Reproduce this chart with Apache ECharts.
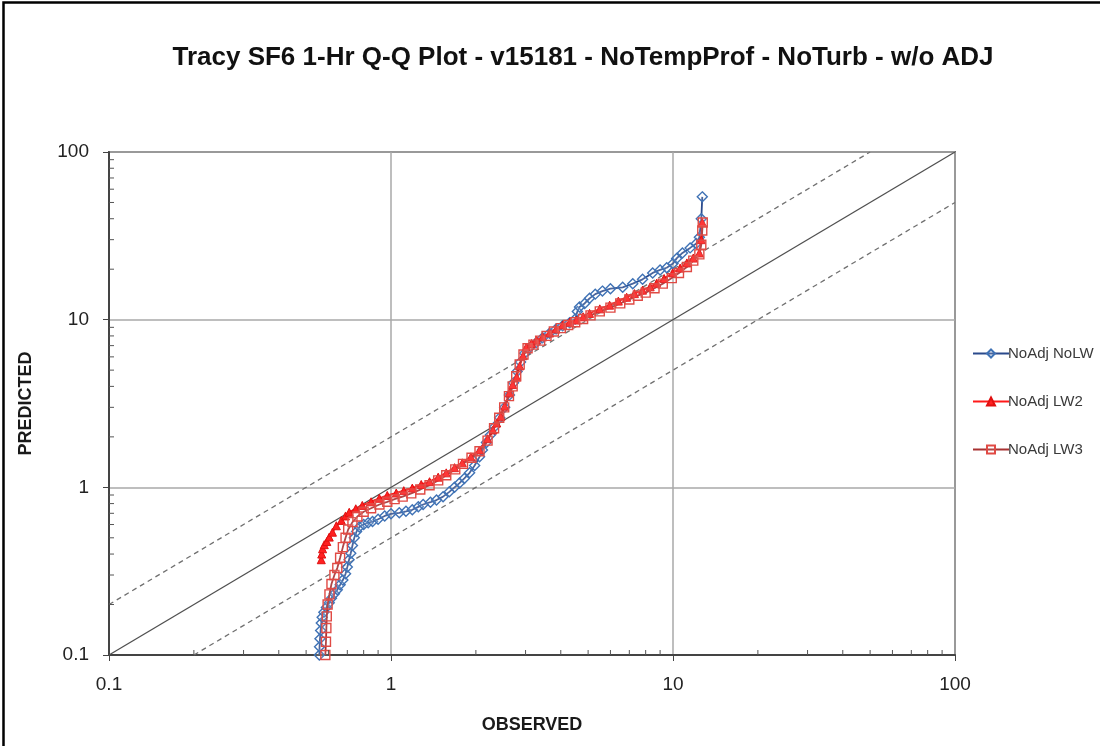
<!DOCTYPE html>
<html>
<head>
<meta charset="utf-8">
<script src="https://cdn.jsdelivr.net/npm/echarts@6/dist/echarts.min.js"></script>
<style>
  html, body { margin: 0; padding: 0; background: #fff; }
  #chart { width: 1100px; height: 746px; }
</style>
</head>
<body>
<div id="chart"></div>
<script>
// Q-Q pairs [observed, predicted] (ppt), sorted quantiles for each run
const noAdjNoLW = [
  [0.557,0.100],[0.558,0.112],[0.560,0.125],[0.563,0.140],[0.566,0.155],[0.570,0.168],
  [0.578,0.180],[0.590,0.192],[0.604,0.205],[0.615,0.218],[0.630,0.232],[0.645,0.245],
  [0.660,0.262],[0.675,0.280],[0.690,0.305],[0.700,0.335],[0.710,0.370],[0.720,0.405],
  [0.730,0.450],[0.741,0.500],[0.755,0.545],[0.772,0.580],[0.800,0.600],[0.830,0.615],
  [0.860,0.625],[0.900,0.645],[0.950,0.675],[1.000,0.695],[1.070,0.705],[1.130,0.720],
  [1.190,0.735],[1.250,0.765],[1.300,0.790],[1.380,0.815],[1.450,0.840],[1.530,0.880],
  [1.610,0.940],[1.680,1.000],[1.750,1.060],[1.820,1.130],[1.900,1.220],[1.980,1.350],
  [2.060,1.520],[2.110,1.670],[2.180,1.850],[2.250,2.050],[2.330,2.300],[2.430,2.600],
  [2.530,3.000],[2.630,3.550],[2.720,4.200],[2.800,4.900],[2.880,5.600],[2.980,6.300],
  [3.100,6.800],[3.280,7.300],[3.450,7.800],[3.650,8.300],[3.850,8.800],[4.060,9.200],
  [4.300,9.600],[4.500,10.10],[4.580,11.20],[4.660,11.90],[4.860,12.50],[5.060,13.40],
  [5.300,14.20],[5.620,14.80],[6.000,15.30],[6.630,15.60],[7.200,16.40],[7.800,17.40],
  [8.470,19.00],[9.000,19.80],[9.500,20.40],[10.00,21.60],[10.30,23.20],[10.80,25.00],
  [11.50,26.80],[12.10,28.50],[12.40,31.00],[12.60,40.00],[12.70,54.00]
];
const noAdjLW2 = [
  [0.566,0.370],[0.568,0.400],[0.572,0.430],[0.580,0.455],[0.592,0.475],[0.604,0.505],
  [0.620,0.540],[0.640,0.590],[0.667,0.635],[0.690,0.675],[0.711,0.710],[0.750,0.745],
  [0.791,0.780],[0.850,0.820],[0.909,0.860],[0.970,0.895],[1.044,0.925],[1.110,0.955],
  [1.190,0.990],[1.280,1.040],[1.370,1.080],[1.470,1.150],[1.570,1.220],[1.680,1.310],
  [1.790,1.400],[1.920,1.520],[2.060,1.670],[2.200,1.950],[2.300,2.200],[2.370,2.420],
  [2.450,2.650],[2.530,3.050],[2.630,3.660],[2.700,4.100],[2.790,4.550],[2.860,5.300],
  [2.940,6.100],[3.020,6.870],[3.150,7.200],[3.280,7.560],[3.450,7.900],[3.650,8.330],
  [3.850,8.800],[4.060,9.300],[4.300,9.650],[4.550,9.950],[4.800,10.40],[5.060,10.90],
  [5.500,11.60],[5.960,12.20],[6.400,12.90],[6.850,13.60],[7.300,14.30],[7.800,15.00],
  [8.300,15.70],[8.750,16.50],[9.300,17.60],[9.970,19.00],[10.60,20.30],[11.20,21.80],
  [11.80,23.30],[12.40,25.00],[12.60,30.00],[12.70,38.00]
];
const noAdjLW3 = [
  [0.585,0.100],[0.588,0.120],[0.590,0.145],[0.592,0.170],[0.596,0.200],[0.605,0.230],
  [0.615,0.265],[0.630,0.300],[0.645,0.330],[0.660,0.380],[0.675,0.440],[0.690,0.500],
  [0.705,0.560],[0.730,0.620],[0.760,0.670],[0.800,0.715],[0.850,0.750],[0.910,0.790],
  [0.970,0.820],[1.030,0.850],[1.100,0.880],[1.180,0.920],[1.270,0.970],[1.370,1.030],
  [1.470,1.100],[1.570,1.180],[1.690,1.280],[1.800,1.380],[1.930,1.500],[2.060,1.640],
  [2.200,1.900],[2.320,2.250],[2.420,2.600],[2.520,3.000],[2.620,3.500],[2.700,4.000],
  [2.780,4.600],[2.860,5.400],[2.950,6.200],[3.050,6.750],[3.200,7.100],[3.380,7.500],
  [3.560,8.000],[3.780,8.500],[4.000,8.900],[4.250,9.300],[4.500,9.650],[4.800,10.10],
  [5.100,10.60],[5.500,11.20],[6.000,11.80],[6.500,12.50],[7.000,13.20],[7.500,13.90],
  [8.000,14.50],[8.600,15.40],[9.200,16.40],[9.900,17.70],[10.50,19.00],[11.20,20.60],
  [11.80,22.50],[12.40,24.50],[12.60,28.00],[12.70,34.00],[12.75,38.00]
];

// 1:1 line and factor-of-two envelope
const oneToOne = [[0.1, 0.1], [100, 100]];
const factor2Upper = [[0.1, 0.2], [50, 100]];
const factor2Lower = [[0.2, 0.1], [100, 50]];

const axisMin = 0.1;
const axisMax = 100;
const minorTickValues = [0.2,0.3,0.4,0.5,0.6,0.7,0.8,0.9, 2,3,4,5,6,7,8,9, 20,30,40,50,60,70,80,90];
const seriesNames = ['NoAdj NoLW', 'NoAdj LW2', 'NoAdj LW3'];

const chart = echarts.init(document.getElementById('chart'), null, { renderer: 'canvas' });

function logAxis(extra) {
  return Object.assign({
    type: 'log',
    logBase: 10,
    min: axisMin,
    max: axisMax,
    axisLine: { show: true, lineStyle: { color: '#444', width: 2 } },
    axisTick: { show: true, length: 6, lineStyle: { color: '#444', width: 1 } },
    splitLine: { show: true, lineStyle: { color: '#a8a8a8', width: 1.5 } },
    nameTextStyle: {
      fontFamily: 'Liberation Sans, Arial, sans-serif',
      fontSize: 18,
      fontWeight: 'bold',
      color: '#1a1a1a'
    }
  }, extra);
}

const tickLabelStyle = {
  fontFamily: 'Liberation Sans, Arial, sans-serif',
  fontSize: 19,
  color: '#222',
  margin: 20,
  formatter: v => String(v)
};

// minor tick marks drawn inside the plot along the bottom and left axes
function minorTicks(axis) {
  return {
    type: 'custom',
    silent: true,
    z: 5,
    data: minorTickValues,
    renderItem: function (params, api) {
      const v = api.value(0);
      let p, shape;
      if (axis === 'x') {
        p = api.coord([v, axisMin]);
        shape = { x1: p[0], y1: p[1], x2: p[0], y2: p[1] - 5 };
      } else {
        p = api.coord([axisMin, v]);
        shape = { x1: p[0], y1: p[1], x2: p[0] + 5, y2: p[1] };
      }
      return { type: 'line', shape: shape, style: { stroke: '#555', lineWidth: 1 } };
    }
  };
}

function refLine(data, dashed) {
  return {
    type: 'line',
    data: data,
    symbol: 'none',
    silent: true,
    z: 1,
    lineStyle: { color: dashed ? '#707070' : '#505050', width: 1.3, type: dashed ? [5, 4] : 'solid' },
    emphasis: { disabled: true }
  };
}

const option = {
  backgroundColor: '#ffffff',
  animation: false,
  title: {
    text: 'Tracy SF6 1-Hr Q-Q Plot - v15181 - NoTempProf - NoTurb - w/o ADJ',
    left: 578,
    top: 40,
    textAlign: 'center',
    textStyle: {
      fontFamily: 'Liberation Sans, Arial, sans-serif',
      fontSize: 26,
      fontWeight: 'bold',
      color: '#111'
    }
  },
  legend: {
    data: seriesNames,
    orient: 'vertical',
    left: 967,
    top: 341,
    itemWidth: 36,
    itemHeight: 10,
    itemGap: 33,
    textStyle: {
      fontFamily: 'Liberation Sans, Arial, sans-serif',
      fontSize: 15,
      color: '#3a3a3a',
      padding: [0, 0, 0, -6]
    }
  },
  grid: {
    left: 109,
    right: 145,
    top: 152,
    bottom: 91,
    show: true,
    borderColor: '#6e6e6e',
    borderWidth: 2
  },
  xAxis: logAxis({
    name: 'OBSERVED',
    nameLocation: 'middle',
    nameGap: 61,
    axisLabel: tickLabelStyle
  }),
  yAxis: logAxis({
    name: 'PREDICTED',
    nameLocation: 'middle',
    nameGap: 74,
    axisLabel: tickLabelStyle
  }),
  series: [
    refLine(oneToOne, false),
    refLine(factor2Upper, true),
    refLine(factor2Lower, true),
    minorTicks('x'),
    minorTicks('y'),
    {
      name: seriesNames[0],
      type: 'line',
      data: noAdjNoLW,
      symbol: 'diamond',
      symbolSize: 10,
      z: 3,
      lineStyle: { color: '#2b4a8c', width: 1.8 },
      itemStyle: { color: 'rgba(255,255,255,0.15)', borderColor: '#3f72b5', borderWidth: 1.4 }
    },
    {
      name: seriesNames[1],
      type: 'line',
      data: noAdjLW2,
      symbol: 'triangle',
      symbolSize: 8,
      z: 4,
      lineStyle: { color: '#ff1a1a', width: 2 },
      itemStyle: { color: '#ff2020', borderColor: '#e01010', borderWidth: 1 }
    },
    {
      name: seriesNames[2],
      type: 'line',
      data: noAdjLW3,
      symbol: 'rect',
      symbolSize: 9,
      z: 4,
      lineStyle: { color: '#a83232', width: 1.8 },
      itemStyle: { color: 'rgba(255,255,255,0.1)', borderColor: '#e04a44', borderWidth: 1.4 }
    }
  ],
  graphic: [
    {
      type: 'rect',
      silent: true,
      shape: { x: 3.5, y: 2.5, width: 1200, height: 800 },
      style: { fill: 'none', stroke: '#000', lineWidth: 2.5 }
    }
  ]
};

chart.setOption(option);
</script>
</body>
</html>
